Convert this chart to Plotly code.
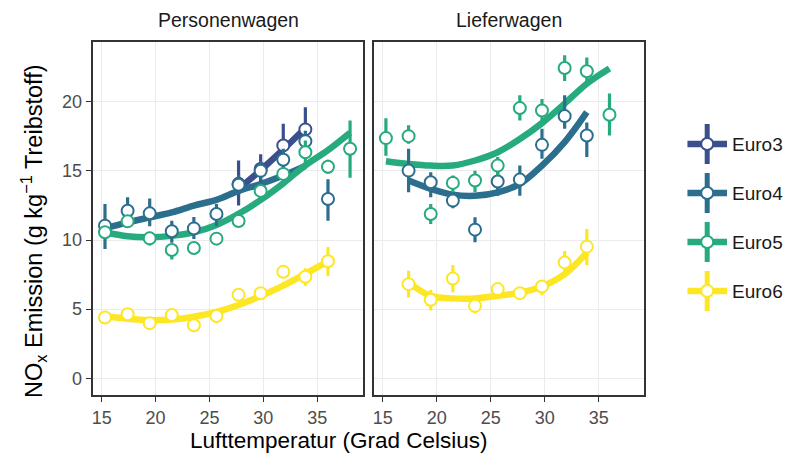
import plotly.graph_objects as go

# ---------------- data ----------------
TEMPS = [15.3, 17.4, 19.45, 21.5, 23.55, 25.65, 27.7, 29.75, 31.85, 33.9, 36.0, 38.05]
PANELS = ["Personenwagen", "Lieferwagen"]
SERIES = ["Euro3", "Euro4", "Euro5", "Euro6"]
X_TICKS = [15, 20, 25, 30, 35]
Y_TICKS = [0, 5, 10, 15, 20]

# Personenwagen: means / lower / upper
PW_EURO3 = [None, None, None, None, None, None, 14.06, 15.14, 16.84, 18.0, None, None]
PW_EURO3_LO = [None, None, None, None, None, None, 12.5, 14.2, 16.0, 16.9, None, None]
PW_EURO3_HI = [None, None, None, None, None, None, 15.75, 16.2, 18.4, 19.6, None, None]

PW_EURO4 = [11.04, 12.12, 11.93, 10.63, 10.84, 11.88, 14.0, 15.0, 15.8, 17.15, 12.97, None]
PW_EURO4_LO = [9.35, 11.4, 11.0, 9.8, 10.07, 11.0, 13.3, 14.3, 15.0, 16.4, 11.4, None]
PW_EURO4_HI = [12.6, 13.1, 13.0, 11.4, 11.67, 12.6, 14.7, 15.7, 16.6, 17.9, 14.4, None]

PW_EURO5 = [10.56, 11.35, 10.12, 9.28, 9.42, 10.1, 11.38, 13.55, 14.78, 16.35, 15.3, 16.6]
PW_EURO5_LO = [10.2, 11.0, 9.6, 8.6, 9.0, 9.8, 11.0, 13.1, 14.3, 15.5, 14.8, 14.5]
PW_EURO5_HI = [10.9, 11.7, 10.6, 9.7, 9.8, 10.4, 11.8, 14.0, 15.2, 17.2, 15.8, 18.65]

PW_EURO6 = [4.40, 4.64, 3.99, 4.57, 3.84, 4.51, 6.04, 6.16, 7.70, 7.34, 8.46, None]
PW_EURO6_LO = [4.1, 4.35, 3.7, 4.3, 3.5, 4.2, 5.75, 5.85, 7.3, 6.7, 7.4, None]
PW_EURO6_HI = [4.7, 4.9, 4.3, 4.85, 4.15, 4.8, 6.35, 6.45, 8.1, 7.95, 9.5, None]

# Lieferwagen
LW_EURO4 = [None, 15.02, 14.18, 12.85, 10.75, 14.23, 14.37, 16.88, 18.96, 17.56, None, None]
LW_EURO4_LO = [None, 13.45, 13.1, 12.3, 9.83, 13.2, 13.2, 15.87, 18.04, 16.0, None, None]
LW_EURO4_HI = [None, 16.6, 14.9, 13.4, 11.64, 15.14, 15.38, 18.04, 20.46, 18.5, None, None]

LW_EURO5 = [17.37, 17.51, 11.88, 14.13, 14.3, 15.38, 19.54, 19.37, 22.44, 22.2, 19.06, None]
LW_EURO5_LO = [16.1, 16.96, 11.16, 13.45, 13.45, 14.66, 18.64, 18.6, 21.5, 21.3, 17.56, None]
LW_EURO5_HI = [18.8, 18.3, 12.6, 14.66, 15.0, 16.0, 20.46, 20.2, 23.36, 23.2, 20.6, None]

LW_EURO6 = [None, 6.81, 5.68, 7.22, 5.24, 6.45, 6.16, 6.64, 8.38, 9.52, None, None]
LW_EURO6_LO = [None, 5.84, 4.9, 6.23, 4.7, 5.9, 5.8, 6.0, 7.5, 8.2, None, None]
LW_EURO6_HI = [None, 7.78, 6.4, 8.19, 5.8, 6.9, 6.55, 7.1, 9.2, 10.8, None, None]

# fitted curves (at the same temperatures)
PW_FIT_EURO3 = [None, None, None, None, None, None, 13.7, 15.05, 16.55, 18.1, None, None]
PW_FIT_EURO4 = [10.85, 11.28, 11.64, 12.0, 12.49, 12.9, 13.55, 14.05, 14.66, 15.35, None, None]
PW_FIT_EURO5 = [10.56, 10.27, 10.2, 10.3, 10.56, 11.09, 11.9, 12.9, 14.1, 15.4, 16.5, 17.76]
PW_FIT_EURO6 = [4.5, 4.3, 4.2, 4.25, 4.45, 4.8, 5.3, 5.95, 6.7, 7.55, 8.45, None]

LW_FIT_EURO4 = [None, 14.3, 13.7, 13.28, 13.2, 13.45, 14.06, 15.38, 17.08, 19.25, None, None]
LW_FIT_EURO5 = [15.7, 15.5, 15.38, 15.39, 15.75, 16.35, 17.3, 18.45, 19.86, 21.3, 22.4, None]
LW_FIT_EURO6 = [None, 6.93, 5.96, 5.78, 5.78, 5.96, 6.2, 6.64, 7.53, 9.1, None, None]

COLORS = {"Euro3": "#3b4f8c", "Euro4": "#2c6e8e", "Euro5": "#27ab7e", "Euro6": "#fde725"}

PANEL_DATA = {
    "Personenwagen": {
        "Euro3": (PW_EURO3, PW_EURO3_LO, PW_EURO3_HI, PW_FIT_EURO3),
        "Euro4": (PW_EURO4, PW_EURO4_LO, PW_EURO4_HI, PW_FIT_EURO4),
        "Euro5": (PW_EURO5, PW_EURO5_LO, PW_EURO5_HI, PW_FIT_EURO5),
        "Euro6": (PW_EURO6, PW_EURO6_LO, PW_EURO6_HI, PW_FIT_EURO6),
    },
    "Lieferwagen": {
        "Euro4": (LW_EURO4, LW_EURO4_LO, LW_EURO4_HI, LW_FIT_EURO4),
        "Euro5": (LW_EURO5, LW_EURO5_LO, LW_EURO5_HI, LW_FIT_EURO5),
        "Euro6": (LW_EURO6, LW_EURO6_LO, LW_EURO6_HI, LW_FIT_EURO6),
    },
}

FONT = "Liberation Sans, Arial, sans-serif"
W, H = 787, 461

fig = go.Figure()
axis_refs = {"Personenwagen": ("x", "y"), "Lieferwagen": ("x2", "y2")}

for panel in PANELS:
    xr, yr = axis_refs[panel]
    data = PANEL_DATA[panel]
    # fitted lines first
    for s in SERIES:
        if s not in data:
            continue
        _, _, _, fit = data[s]
        xs = [t for t, v in zip(TEMPS, fit) if v is not None]
        ys = [v for v in fit if v is not None]
        fig.add_trace(go.Scatter(
            x=xs, y=ys, mode="lines", line=dict(color=COLORS[s], width=6.5, shape="spline", smoothing=1.0),
            xaxis=xr, yaxis=yr, showlegend=False, hoverinfo="skip"))
    # point ranges
    for s in SERIES:
        if s not in data:
            continue
        vals, lo, hi, _ = data[s]
        xs, ys, ep, em = [], [], [], []
        for t, v, l, h in zip(TEMPS, vals, lo, hi):
            if v is None:
                continue
            xs.append(t); ys.append(v); ep.append(h - v); em.append(v - l)
        fig.add_trace(go.Scatter(
            x=xs, y=ys, mode="markers",
            marker=dict(symbol="circle", size=12, color="white", line=dict(color=COLORS[s], width=2)),
            error_y=dict(type="data", symmetric=False, array=ep, arrayminus=em,
                         color=COLORS[s], thickness=3.2, width=0),
            xaxis=xr, yaxis=yr, showlegend=False, name=s))

# legend keys (cross glyphs) on a hidden helper axis
for i, s in enumerate(SERIES):
    fig.add_trace(go.Scatter(
        x=[0], y=[i], mode="markers", xaxis="x3", yaxis="y3",
        marker=dict(symbol="circle", size=12, color="white", line=dict(color=COLORS[s], width=2)),
        error_x=dict(type="constant", value=1, color=COLORS[s], thickness=6.5, width=0),
        error_y=dict(type="constant", value=0.41, color=COLORS[s], thickness=5, width=0),
        showlegend=False, hoverinfo="skip"))

axis_common = dict(
    range=[14.23, 39.23], tickvals=X_TICKS, showgrid=True, gridcolor="#ebebeb", gridwidth=1.3,
    zeroline=False, showline=True, mirror=True, linecolor="#333333", linewidth=1.5,
    ticks="outside", ticklen=6, tickwidth=1.2, tickcolor="#333333",
    tickfont=dict(family=FONT, size=18, color="#4d4d4d"))
yaxis_common = dict(
    range=[-1.17, 24.34], tickvals=Y_TICKS, showgrid=True, gridcolor="#ebebeb", gridwidth=1.3,
    zeroline=False, showline=True, mirror=True, linecolor="#333333", linewidth=1.5,
    tickfont=dict(family=FONT, size=18, color="#4d4d4d"))

fig.update_layout(
    width=W, height=H, margin=dict(l=0, r=0, t=0, b=0),
    paper_bgcolor="white", plot_bgcolor="white", showlegend=False,
    xaxis=dict(domain=[91.7 / W, 361.7 / W], anchor="y", **axis_common),
    xaxis2=dict(domain=[373.3 / W, 644 / W], anchor="y2", **axis_common),
    yaxis=dict(domain=[1 - 394.5 / H, 1 - 41.7 / H], anchor="x", ticks="outside", ticklen=6,
               tickwidth=1.2, tickcolor="#333333", **yaxis_common),
    yaxis2=dict(domain=[1 - 394.5 / H, 1 - 41.7 / H], anchor="x2", ticks="", showticklabels=False,
                **yaxis_common),
    xaxis3=dict(domain=[687 / W, 727 / W], range=[-1, 1], visible=False, anchor="y3"),
    yaxis3=dict(domain=[1 - 315.5 / H, 1 - 119.5 / H], range=[3.5, -0.5], visible=False, anchor="x3"),
)

ann = []
ann.append(dict(text="Personenwagen", x=226.7 / W, y=1 - 20 / H, xref="paper", yref="paper",
                xanchor="center", yanchor="middle",
                showarrow=False, font=dict(family=FONT, size=19.5, color="#1a1a1a")))
ann.append(dict(text="Lieferwagen", x=508.7 / W, y=1 - 20 / H, xref="paper", yref="paper",
                xanchor="center", yanchor="middle",
                showarrow=False, font=dict(family=FONT, size=19.5, color="#1a1a1a")))
ann.append(dict(text="Lufttemperatur (Grad Celsius)", x=338 / W, y=1 - 440 / H, xref="paper",
                yref="paper", xanchor="center", yanchor="middle",
                showarrow=False, font=dict(family=FONT, size=22.5, color="black")))
ann.append(dict(text="NO<sub>x</sub> Emission (g kg<sup>\u22121</sup> Treibstoff)", x=31 / W,
                y=1 - 231 / H, xref="paper", yref="paper", textangle=-90, showarrow=False,
                xanchor="center", yanchor="middle",
                font=dict(family=FONT, size=23.5, color="black")))
for i, s in enumerate(SERIES):
    ann.append(dict(text=s, x=1, y=i, xref="x3", yref="y3", xanchor="left", yanchor="middle",
                    xshift=3, showarrow=False, font=dict(family=FONT, size=19, color="#1a1a1a")))
fig.update_layout(annotations=ann)

fig.write_html("out.html")
